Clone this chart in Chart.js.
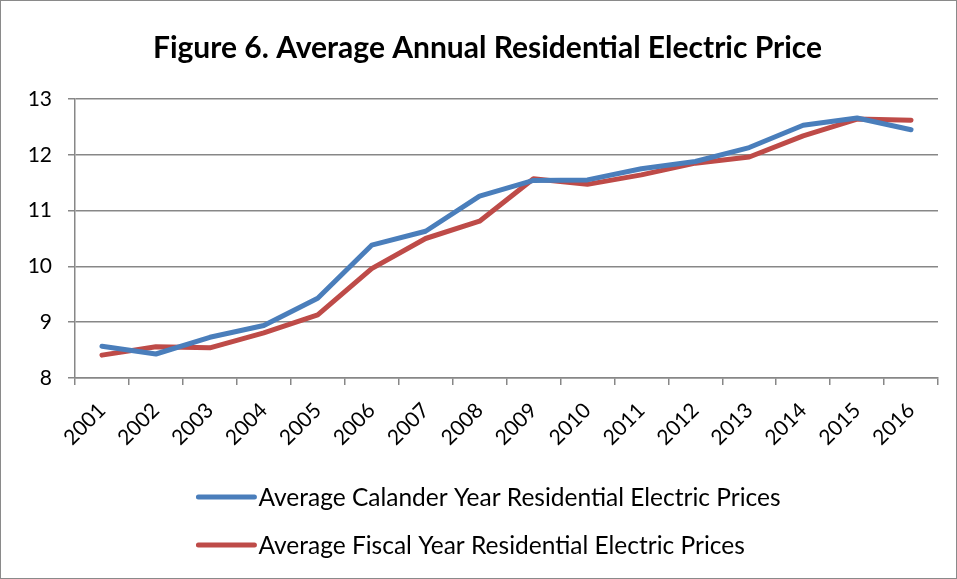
<!DOCTYPE html>
<html>
<head>
<meta charset="utf-8">
<script src="https://cdn.jsdelivr.net/npm/chart.js@4.4.1/dist/chart.umd.min.js"></script>
<style>
   html, body { margin: 0; padding: 0; background: #fff; }
   #wrap { width: 957px; height: 579px; position: relative; }
</style>
</head>
<body>
<div id="wrap"><canvas id="chart__1" width="957" height="579"></canvas></div>
<script>
// DATA
const years = ["2001", "2002", "2003", "2004", "2005", "2006", "2007", "2008",
   "2009", "2010", "2011", "2012", "2013", "2014", "2015", "2016"];
const calendarPrices = [8.57, 8.43, 8.73, 8.94, 9.43, 10.38, 10.63, 11.26,
   11.54, 11.55, 11.75, 11.88, 12.13, 12.53, 12.66, 12.45];
const fiscalPrices = [8.41, 8.56, 8.54, 8.81, 9.13, 9.96, 10.50, 10.81,
   11.57, 11.47, 11.64, 11.85, 11.96, 12.34, 12.64, 12.62];
const yTicks = [8, 9, 10, 11, 12, 13];
const chartTitle = "Figure 6. Average Annual Residential Electric Price";

const FONT = "Lato, 'Liberation Sans', sans-serif";
const GRID = "#878787";

// title drawn by hand so it can sit a little right of the canvas centre, like Excel
const offsetTitle = {
   id: "offsetTitle",
   afterDraw(chart) {
      const ctx = chart.ctx;
      ctx.save();
      ctx.font = "bold 30px " + FONT;
      ctx.fillStyle = "#000";
      ctx.textAlign = "center";
      ctx.textBaseline = "middle";
      ctx.fillText(chartTitle, chart.width / 2 + 9, 48);
      ctx.restore();
   },
};

// legend drawn as a vertical list under the axis, like Excel
const stackedLegend = {
   id: "stackedLegend",
   afterDraw(chart) {
      const ctx = chart.ctx;
      const sets = chart.data.datasets;
      ctx.save();
      ctx.font = "24.5px " + FONT;
      let maxW = 0;
      sets.forEach((ds) => { maxW = Math.max(maxW, ctx.measureText(ds.label).width); });
      const lineLen = 56;
      const blockW = lineLen + 4 + maxW;
      const left = (chart.width - blockW) / 2 + 11;
      sets.forEach((ds, i) => {
         const y = chart.chartArea.bottom + 119 + i * 48;
         ctx.strokeStyle = ds.borderColor;
         ctx.lineWidth = 5;
         ctx.lineCap = "round";
         ctx.beginPath();
         ctx.moveTo(left, y);
         ctx.lineTo(left + lineLen, y);
         ctx.stroke();
         ctx.fillStyle = "#000";
         ctx.textBaseline = "middle";
         ctx.textAlign = "left";
         ctx.fillText(ds.label, left + lineLen + 4, y + 1);
      });
      ctx.restore();
   },
};

// thin gray frame round the whole chart
const frame = {
   id: "frame",
   beforeDraw(chart) {
      const ctx = chart.ctx;
      ctx.save();
      ctx.strokeStyle = "#8a8a8a";
      ctx.lineWidth = 1;
      ctx.strokeRect(0.5, 0.5, chart.width - 1, chart.height - 1);
      ctx.restore();
   },
};

var ctx1 = document.getElementById("chart__1").getContext("2d");
window.chart1 = new Chart(ctx1, {
   type: "line",
   data: {
      labels: years,
      datasets: [
         {
            label: "Average Calander Year Residential Electric Prices",
            data: calendarPrices,
            borderColor: "#4a7ebb",
            backgroundColor: "#4a7ebb",
            borderWidth: 5,
            pointRadius: 0,
            tension: 0,
            borderCapStyle: "round",
            borderJoinStyle: "round",
         },
         {
            label: "Average Fiscal Year Residential Electric Prices",
            data: fiscalPrices,
            borderColor: "#be4b48",
            backgroundColor: "#be4b48",
            borderWidth: 5,
            pointRadius: 0,
            tension: 0,
            borderCapStyle: "round",
            borderJoinStyle: "round",
         },
      ],
   },
   options: {
      responsive: false,
      animation: false,
      layout: {
         padding: { left: 0, right: 19, top: 99, bottom: 111 },
      },
      plugins: {
         legend: { display: false },
         tooltip: { enabled: false },
         title: { display: false },
      },
      scales: {
         x: {
            offset: true,
            grid: {
               offset: true,
               drawOnChartArea: false,
               color: GRID,
               lineWidth: 1.5,
               tickLength: 7,
            },
            border: { color: GRID, width: 1.5 },
            ticks: {
               color: "#000",
               font: { family: FONT, size: 21 },
               minRotation: 45,
               maxRotation: 45,
               autoSkip: false,
               padding: 13,
            },
            afterFit(scale) { scale.height = 90; },
         },
         y: {
            min: yTicks[0],
            max: yTicks[yTicks.length - 1],
            afterBuildTicks(scale) {
               scale.ticks = yTicks.map((v) => ({ value: v }));
            },
            grid: {
               color: GRID,
               lineWidth: 1.5,
               tickLength: 7,
            },
            border: { color: GRID, width: 1.5 },
            ticks: {
               color: "#000",
               font: { family: FONT, size: 21 },
               padding: 16,
            },
            afterFit(scale) { scale.width = 75; },
         },
      },
   },
   plugins: [frame, offsetTitle, stackedLegend],
});
</script>
</body>
</html>
